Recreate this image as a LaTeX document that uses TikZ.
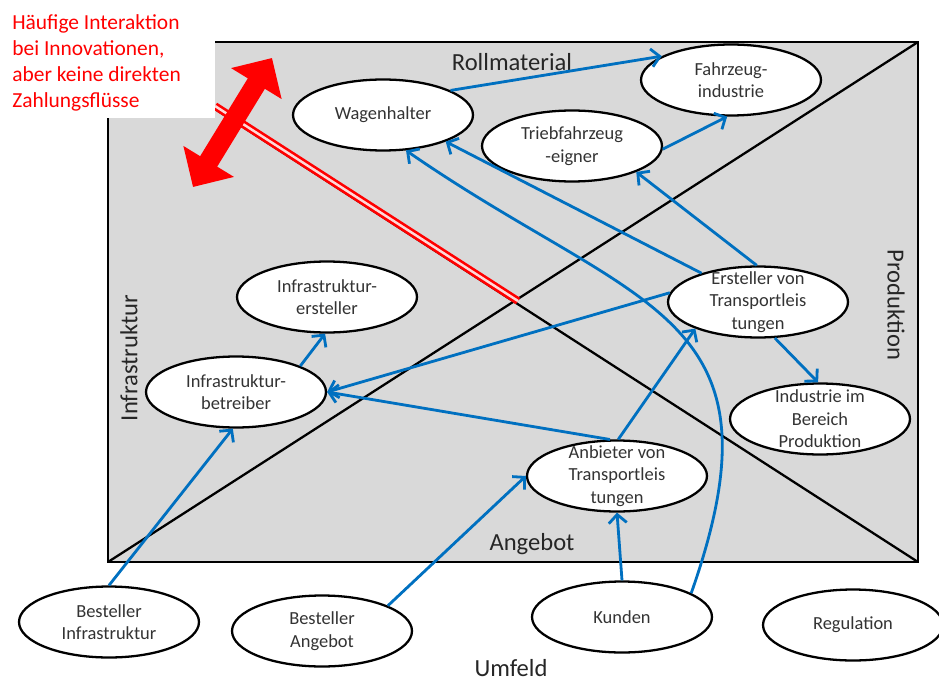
\documentclass[tikz,border=0pt]{standalone}
\usepackage{fontspec}
\setmainfont{Carlito}
\usetikzlibrary{shapes,arrows.meta,positioning,calc}

\definecolor{flowblue}{RGB}{0,112,192}
\definecolor{fieldgray}{RGB}{217,217,217}

\tikzset{
  actor/.style={ellipse,draw,line width=1.3pt,fill=white,minimum width=3.6cm,minimum height=1.42cm,inner sep=0pt,
    label={[font=\fontsize{10.5}{12.8}\selectfont,align=center,text=black!80]center:#1}},
  flow/.style={draw=flowblue,line width=1.6pt,-{Straight Barb[length=1.7mm,width=3.6mm]}},
  sector/.style={font=\fontsize{14}{16}\selectfont,text=black!85}
}

\begin{document}
\begin{tikzpicture}[x=0.02cm,y=-0.02cm]
    \useasboundingbox (0,0) rectangle (939,682);

    % Feld mit Diagonalen
    \draw[fill=fieldgray,line width=1.5pt] (108,42) rectangle (918,562);
    \draw[line width=1.3pt] (108,562) -- (918,42);
    \draw[line width=1.3pt] (215,109) -- (918,562);
    \draw[draw=red,double=red!15,double distance=1.4pt,line width=1.5pt] (215,106) -- (518,301);

    % Innovationspfeil
    \coordinate (innoLow) at (193,187);
    \coordinate (innoHigh) at (272,58);
    \draw[draw=red,line width=0.4cm,{Triangle[length=0.6cm,width=1.15cm]}-{Triangle[length=0.6cm,width=1.15cm]}] (innoLow) -- (innoHigh);

    % Hinweis
    \fill[white] (0,0) rectangle (215,118);
    \node[anchor=north west,inner sep=0pt,align=left,text=red,font=\fontsize{12.2}{14.8}\selectfont] (hint) at (12,14)
          {Häufige Interaktion\\bei Innovationen,\\aber keine direkten\\Zahlungsflüsse};

    % Bereiche
    \node[sector] (roll) at (512,62) {Rollmaterial};
    \node[sector] (angebot) at (532,544) {Angebot};
    \node[sector,rotate=90] (infra) at (129,358) {Infrastruktur};
    \node[sector,rotate=-90] (prod) at (896,305) {Produktion};
    \node[sector] (umfeld) at (511,668) {Umfeld};

    % Akteure
    \node[actor={Wagenhalter}] (wagen) at (383,115) {};
    \node[actor={Triebfahrzeug\\-eigner}] (trieb) at (572,146) {};
    \node[actor={Fahrzeug-\\industrie}] (fzind) at (731,80) {};
    \node[actor={Ersteller von\\Transportleis\\tungen}] (erst) at (758,302) {};
    \node[actor={Industrie im\\Bereich\\Produktion}] (indprod) at (820,419) {};
    \node[actor={Anbieter von\\Transportleis\\tungen}] (anb) at (617,476) {};
    \node[actor={Infrastruktur-\\ersteller}] (infers) at (327,297) {};
    \node[actor={Infrastruktur-\\betreiber}] (infbet) at (236,392) {};

    % Umfeld
    \node[actor={Besteller\\Infrastruktur}] (bestinf) at (109,622) {};
    \node[actor={Besteller\\Angebot}] (bestang) at (322,631) {};
    \node[actor={Kunden}] (kunden) at (622,617) {};
    \node[actor={Regulation}] (reg) at (853,625) {};

    % Beziehungen
    \draw[flow] (wagen.20) -- (fzind.161);
    \draw[flow] (trieb.-2) -- (fzind.264);
    \draw[flow] (erst.92) -- (trieb.338);
    \draw[flow] (erst.153) -- (wagen.337);
    \draw[flow] (kunden.19) .. controls (791,310) and (638,311) .. (wagen.303);
    \draw[flow] (erst.174) -- (infbet.0);
    \draw[flow] (anb.101) -- (infbet.0);
    \draw[flow] (anb.88) -- (erst.203);
    \draw[flow] (erst.295) -- (indprod.93);
    \draw[flow] (kunden.90) -- (anb.270);
    \draw[flow] (bestang.21) -- (anb.180);
    \draw[flow] (bestinf.90) -- (infbet.265);
    \draw[flow] (infbet.22) -- (infers.267);
\end{tikzpicture}
\end{document}
